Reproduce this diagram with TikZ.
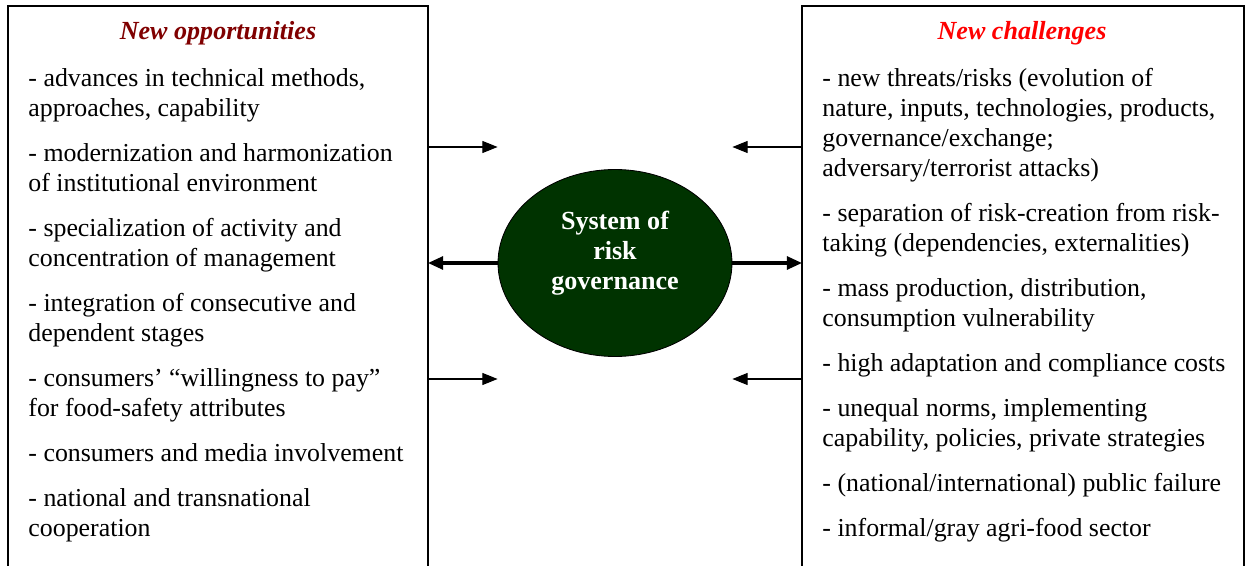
\documentclass[tikz,border=0pt]{standalone}
\usepackage{fontspec}
\setmainfont{Liberation Serif}
\usetikzlibrary{arrows.meta,shapes.geometric}
\definecolor{oppred}{RGB}{128,0,0}
\definecolor{chalred}{RGB}{255,0,0}
\definecolor{govgreen}{RGB}{0,51,0}
\newcommand{\gap}{\\[6.9pt]}

\begin{document}
\begin{tikzpicture}[x=0.46pt,y=-0.46pt,
    heading/.style={font=\fontsize{12}{13.8}\selectfont\bfseries\itshape, anchor=base, inner sep=0pt},
    itemlist/.style={align=left, anchor=base west, inner sep=0pt, font=\fontsize{11.9}{13.8}\selectfont},
    flowarrow/.style={-{Triangle[length=7pt,width=5.5pt]}, line width=0.5pt},
    mainarrow/.style={-{Triangle[length=7pt,width=6pt]}, line width=1.4pt}]
    \useasboundingbox (0,0) rectangle (1253,566);
    % the two frames, open below
    \draw[line width=0.7pt] (8,6) rectangle (428,572);
    \draw[line width=0.7pt] (802,6) rectangle (1244,572);
    \node[heading, text=oppred] (opphead) at (218,40) {New opportunities};
    \node[heading, text=chalred] (chalhead) at (1022,40) {New challenges};
    % base anchor sits on the last line
    \node[itemlist] (opplist) at (28,536) {%
        - advances in technical methods,\\approaches, capability\gap
        - modernization and harmonization\\of institutional environment\gap
        - specialization of activity and\\concentration of management\gap
        - integration of consecutive and\\dependent stages\gap
        - consumers’ “willingness to pay”\\for food-safety attributes\gap
        - consumers and media involvement\gap
        - national and transnational\\cooperation};
    \node[itemlist] (challist) at (822,536) {%
        - new threats/risks (evolution of\\nature, inputs, technologies, products,\\governance/exchange;\\adversary/terrorist attacks)\gap
        - separation of risk-creation from risk-\\taking (dependencies, externalities)\gap
        - mass production, distribution,\\consumption vulnerability\gap
        - high adaptation and compliance costs\gap
        - unequal norms, implementing\\capability, policies, private strategies\gap
        - (national/international) public failure\gap
        - informal/gray agri-food sector};
    % centre
    \node[ellipse, draw, fill=govgreen, minimum width=107.6pt, minimum height=86pt,
        label={[name=govtext, text=white, align=center, yshift=4.6pt,
            font=\fontsize{12}{13.8}\selectfont\bfseries]center:System of\\risk\\governance}] (gov) at (615,263) {};
    \coordinate (oppT) at (428,147);
    \coordinate (oppM) at (428,263);
    \coordinate (oppB) at (428,379);
    \coordinate (chalT) at (802,147);
    \coordinate (chalM) at (802,263);
    \coordinate (chalB) at (802,379);
    \draw[flowarrow] (oppT) -- (oppT -| gov.west);
    \draw[flowarrow] (oppB) -- (oppB -| gov.west);
    \draw[flowarrow] (chalT) -- (chalT -| gov.east);
    \draw[flowarrow] (chalB) -- (chalB -| gov.east);
    \draw[mainarrow] (gov.west) -- (oppM);
    \draw[mainarrow] (gov.east) -- (chalM);
\end{tikzpicture}
\end{document}
